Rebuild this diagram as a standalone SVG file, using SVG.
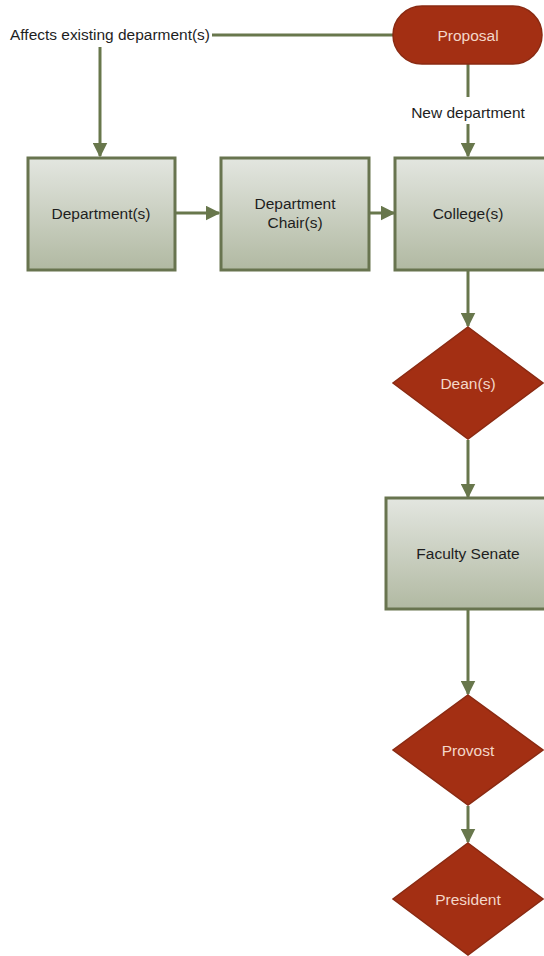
<svg xmlns="http://www.w3.org/2000/svg" width="544" height="956" viewBox="0 0 544 956">
<style>
.t{font-family:"Liberation Sans",Arial,sans-serif;font-size:15.5px;text-anchor:middle;fill:#1e1e1e}
.w{fill:#f3d7c9}
.box{fill:url(#g);stroke:#68744f;stroke-width:3}
.red{fill:#a32f13;stroke:#8a2a12;stroke-width:1.5}
.c{fill:none;stroke:#68774c;stroke-width:3}
</style>
<defs>
<linearGradient id="g" x1="0" y1="0" x2="0" y2="1">
<stop offset="0" stop-color="#e3e6e0"/>
<stop offset="1" stop-color="#b1b9a2"/>
</linearGradient>
<marker id="a" viewBox="0 0 10 10" refX="9" refY="5" markerWidth="5" markerHeight="5" markerUnits="strokeWidth" orient="auto">
<path d="M0,0 L10,5 L0,10 z" fill="#68774c"/>
</marker>
</defs>
<g id="connectors">
<path class="c" d="M212,35 H395"/>
<path class="c" d="M100,47 V156" marker-end="url(#a)"/>
<path class="c" d="M468,64 V97"/>
<path class="c" d="M468,124 V156" marker-end="url(#a)"/>
<path class="c" d="M176,213 H219" marker-end="url(#a)"/>
<path class="c" d="M370,213 H394" marker-end="url(#a)"/>
<path class="c" d="M468,271 V326" marker-end="url(#a)"/>
<path class="c" d="M468,440 V497" marker-end="url(#a)"/>
<path class="c" d="M468,610 V694" marker-end="url(#a)"/>
<path class="c" d="M468,806 V842" marker-end="url(#a)"/>
</g>
<g id="affects-label"><text class="t" x="110" y="40" textLength="200" lengthAdjust="spacingAndGlyphs">Affects existing deparment(s)</text></g>
<g id="new-dept-label"><text class="t" x="468" y="118">New department</text></g>
<g id="proposal">
<rect class="red" x="393" y="6" width="149" height="58" rx="29"/>
<text class="t w" x="468" y="41">Proposal</text>
</g>
<g id="departments">
<rect class="box" x="28" y="158" width="147" height="112"/>
<text class="t" x="101" y="219">Department(s)</text>
</g>
<g id="chair">
<rect class="box" x="221" y="158" width="148" height="112"/>
<text class="t" x="295" y="209">Department</text>
<text class="t" x="295" y="228">Chair(s)</text>
</g>
<g id="college">
<rect class="box" x="395" y="158" width="160" height="112"/>
<text class="t" x="468" y="219">College(s)</text>
</g>
<g id="dean">
<polygon class="red" points="468,327 543,383 468,439 393,383"/>
<text class="t w" x="468" y="389">Dean(s)</text>
</g>
<g id="senate">
<rect class="box" x="386" y="498" width="170" height="111"/>
<text class="t" x="468" y="559">Faculty Senate</text>
</g>
<g id="provost">
<polygon class="red" points="468,695 543,750 468,805 393,750"/>
<text class="t w" x="468" y="756">Provost</text>
</g>
<g id="president">
<polygon class="red" points="468,843 543,899 468,955 393,899"/>
<text class="t w" x="468" y="905">President</text>
</g>
</svg>
